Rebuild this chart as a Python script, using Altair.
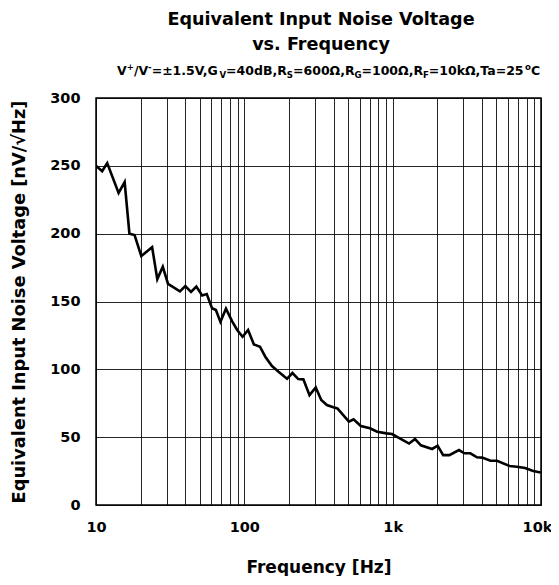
import altair as alt
import pandas as pd

FONT = "DejaVu Sans"

freq = [10, 11, 11.9, 14.2, 15.6, 16.8, 18.2, 20.2, 23.9, 25.9, 28.2, 30.6, 36.8, 40, 43.7,
        47.5, 52, 55.8, 60.6, 64.3, 69, 75.2, 82.6, 89.5, 97.3, 106, 116, 127.5, 138.5, 153.6,
        170, 194, 211, 231, 250, 275, 303, 330, 360, 398, 424, 507, 545, 610, 703, 786, 910,
        990, 1290, 1415, 1550, 1845, 2010, 2190, 2410, 2800, 3040, 3340, 3700, 4010, 4560,
        5050, 6140, 6870, 7810, 8860, 9960]
noise = [250, 246, 252, 230, 238, 200, 199, 183.5, 190, 166.5, 175.6, 163, 157.5, 161.3, 157,
         161, 154.5, 155.5, 145, 143.7, 135, 144.7, 135.6, 129, 124, 129, 118.4, 116.7, 109.3, 102.4,
         98.2, 93, 97.3, 92.8, 92.6, 81, 86.7, 77.4, 73.7, 72, 71.2, 61.4, 63.2, 58.2, 56.5, 54, 52.8,
         52.3, 45.3, 48.6, 44, 41.3, 43.7, 36.8, 36.8, 40.5, 38.1, 38.1, 35.2, 34.9, 32.6,
         32.6, 28.7, 28.2, 27.3, 25, 24]

x_grid = [m * d for d in (10, 100, 1000) for m in range(1, 10)] + [10000]
y_ticks = [0, 50, 100, 150, 200, 250, 300]
title_lines = ["Equivalent Input Noise Voltage", "vs. Frequency"]
sub_segments = [("V", "n"), ("+", "sup"), ("/V", "n"), ("-", "sup"), ("=±1.5V,G", "n"), ("V", "sub"),
                ("=40dB,R", "n"), ("S", "sub"), ("=600Ω,R", "n"), ("G", "sub"), ("=100Ω,R", "n"),
                ("F", "sub"), ("=10kΩ,Ta=25", "n"), ("o", "sup"), ("C", "n")]

df = pd.DataFrame({"f": freq, "v": noise})

W, H = 445, 407

# DejaVu Sans Bold advance widths (em units)
ADV = {"V": .774, "+": .838, "/": .365, "-": .411, "=": .838, "±": .838, ".": .380, ",": .380,
       "G": .821, "d": .716, "B": .762, "R": .770, "S": .720, "Ω": .837, "k": .665, "T": .682,
       "a": .675, "C": .734, "F": .683, "o": .687}
for c in "0123456789":
    ADV[c] = .696


def seg_width(s, size):
    return sum(ADV.get(c, .7) for c in s) * size


def txt(s, x, y, size, align="left"):
    return alt.Chart(alt.Data(values=[{}])).mark_text(
        text=s, x=x, y=y, fontSize=size, font=FONT, fontWeight="bold",
        align=align, baseline="alphabetic", color="black")


layers = []
layers.append(txt(title_lines[0], 225, -73.5, 17.6, "center"))
layers.append(txt(title_lines[1], 225, -48, 17.6, "center"))

SUB_MAIN, SUB_SMALL = 12.5, 8.6
cx = 21.0
base_y = -23
for s, kind in sub_segments:
    size = SUB_MAIN if kind == "n" else SUB_SMALL
    yy = base_y if kind == "n" else (base_y - 5 if kind == "sup" else base_y + 2.5)
    layers.append(txt(s, cx, yy, size))
    cx += seg_width(s, size)

label_expr = ("datum.value == 10 ? '10' : datum.value == 100 ? '100' : "
              "datum.value == 1000 ? '1k' : datum.value == 10000 ? '10k' : ''")

line = alt.Chart(df).mark_line(color="black", strokeWidth=2.6, clip=True).encode(
    x=alt.X("f:Q", scale=alt.Scale(type="log", domain=[10, 10000], nice=False),
            axis=alt.Axis(values=x_grid, labelExpr=label_expr, title="Frequency [Hz]",
                          grid=True, gridColor="black", gridWidth=1, gridOpacity=0.85,
                          ticks=False, domain=False, labelOverlap=False, labelFlush=False,
                          labelOffset={"condition": {"test": "datum.value == 10000", "value": -4},
                                       "value": 0},
                          labelFont=FONT, labelFontSize=14.5, labelFontWeight="bold",
                          labelColor="black", labelPadding=15,
                          titleFont=FONT, titleFontSize=17, titleFontWeight="bold",
                          titleColor="black", titleY=67, titleBaseline="alphabetic")),
    y=alt.Y("v:Q", scale=alt.Scale(domain=[0, 300], nice=False),
            axis=alt.Axis(values=y_ticks, title="Equivalent Input Noise Voltage [nV/√Hz]",
                          grid=True, gridColor="black", gridWidth=1, gridOpacity=0.85,
                          ticks=False, domain=False, labelFlush=False,
                          labelFont=FONT, labelFontSize=14.5, labelFontWeight="bold",
                          labelColor="black", labelPadding=16,
                          titleFont=FONT, titleFontSize=17.8, titleFontWeight="bold",
                          titleColor="black", titleX=-68, titleBaseline="bottom")),
)

chart = alt.layer(line, *layers).properties(
    width=W, height=H,
    padding={"left": 88, "top": 90, "right": 10, "bottom": 71},
    autosize=alt.AutoSizeParams(type="none"),
).configure_view(stroke="black", strokeWidth=1.5)

chart.save("out.html", embed_options={"renderer": "svg", "actions": False})
